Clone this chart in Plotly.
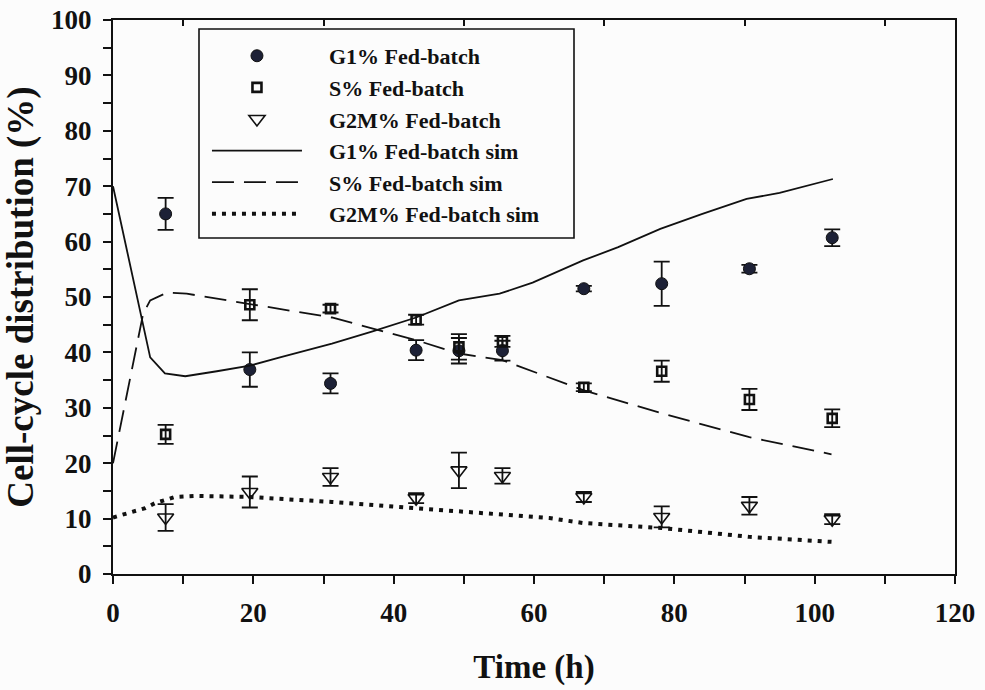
import plotly.graph_objects as go

# Measured cell-cycle phase fractions (fed-batch), mean +/- error
time_exp = [7.5, 19.5, 31.0, 43.2, 49.3, 55.5, 67.1, 78.2, 90.7, 102.5]
g1_exp = [65.0, 36.9, 34.4, 40.4, 40.3, 40.3, 51.5, 52.4, 55.1, 60.7]
g1_err = [2.9, 3.1, 1.8, 1.8, 2.3, 1.8, 0.5, 4.0, 0.7, 1.5]
s_exp = [25.2, 48.6, 47.9, 45.9, 41.0, 42.0, 33.7, 36.6, 31.5, 28.1]
s_err = [1.7, 2.8, 0.7, 0.9, 2.3, 1.0, 0.7, 1.9, 1.9, 1.6]
g2m_exp = [10.2, 14.8, 17.5, 13.7, 18.7, 17.7, 13.9, 10.3, 12.3, 9.9]
g2m_err = [2.4, 2.8, 1.6, 0.9, 3.2, 1.4, 0.9, 1.9, 1.6, 0.9]

# Model simulations
g1_sim_t = [0, 5.3, 7.4, 10.3, 14.8, 19.5, 23.8, 31.2, 37.0, 43.2, 49.3, 55.1,
            59.8, 67.0, 72.0, 78.0, 84.0, 90.3, 95.0, 102.6]
g1_sim = [70.0, 39.1, 36.2, 35.7, 36.6, 37.6, 39.1, 41.6, 43.8, 46.3, 49.4, 50.6,
          52.6, 56.6, 59.0, 62.3, 65.0, 67.7, 68.8, 71.3]

s_sim_t = [0, 4.3, 5.3, 7.7, 10.5, 19.5, 31.2, 43.2, 49.3, 55.5, 62.2, 67.0,
           78.2, 90.7, 102.4]
s_sim = [20.0, 47.0, 49.4, 50.8, 50.6, 48.7, 46.3, 42.2, 39.8, 38.6, 35.5, 33.2,
         29.0, 24.7, 21.6]

g2m_sim_t = [0, 4.6, 6.0, 7.4, 8.8, 12.0, 19.5, 31.2, 43.2, 49.3, 62.2, 67.0,
             78.2, 90.7, 102.4]
g2m_sim = [10.2, 11.9, 12.8, 13.3, 13.9, 14.1, 13.9, 13.0, 11.9, 11.2, 10.1, 9.2,
           8.3, 6.7, 5.8]

x_major = [0, 20, 40, 60, 80, 100, 120]
y_major = [0, 10, 20, 30, 40, 50, 60, 70, 80, 90, 100]
top_ticks = [10, 30, 50, 70, 90, 110]

FONT = "Liberation Serif"
INK = "#111111"
BG = "#fcfcfc"
PAD = "\u2003"  # gap between legend glyph and label

err_style = dict(type="data", visible=True, thickness=1.8, width=8, color=INK)

fig = go.Figure()

fig.add_trace(go.Scatter(
    x=time_exp, y=g1_exp, mode="markers", name=PAD + "G1% Fed-batch",
    marker=dict(symbol="circle", size=12, color="#1d2136",
                line=dict(color=INK, width=1)),
    error_y=dict(array=g1_err, **err_style),
))
fig.add_trace(go.Scatter(
    x=time_exp, y=s_exp, mode="markers", name=PAD + "S% Fed-batch",
    marker=dict(symbol="square-open", size=9, color=INK,
                line=dict(color=INK, width=2.6)),
    error_y=dict(array=s_err, **err_style),
))
fig.add_trace(go.Scatter(
    x=time_exp, y=g2m_exp, mode="markers", name=PAD + "G2M% Fed-batch",
    marker=dict(symbol="triangle-down-open", size=14, color=INK,
                line=dict(color=INK, width=1.6)),
    error_y=dict(array=g2m_err, **err_style),
))
fig.add_trace(go.Scatter(
    x=g1_sim_t, y=g1_sim, mode="lines", name=PAD + "G1% Fed-batch sim",
    line=dict(color=INK, width=1.8),
))
fig.add_trace(go.Scatter(
    x=s_sim_t, y=s_sim, mode="lines", name=PAD + "S% Fed-batch sim",
    line=dict(color=INK, width=1.8, dash="22px,10px"),
))
fig.add_trace(go.Scatter(
    x=g2m_sim_t, y=g2m_sim, mode="lines", name=PAD + "G2M% Fed-batch sim",
    line=dict(color=INK, width=4, dash="4px,6px"),
))

# Top frame with its own tick marks
fig.add_trace(go.Scatter(x=[None], y=[None], xaxis="x2", showlegend=False,
                         hoverinfo="skip"))

tick_font = dict(family=FONT, size=27, color=INK, weight="bold")

fig.update_layout(
    width=985, height=690,
    margin=dict(l=113, r=30, t=20, b=116),
    paper_bgcolor=BG, plot_bgcolor=BG,
    showlegend=True,
    legend=dict(
        x=0.1116, y=0.973, xanchor="left", yanchor="top",
        font=dict(family=FONT, size=22, color=INK, weight="bold"),
        bgcolor="rgba(0,0,0,0)", borderwidth=0,
        itemwidth=90, traceorder="normal",
    ),
    shapes=[dict(
        type="rect", xref="paper", yref="paper",
        x0=(199 - 113) / 842, x1=(574 - 113) / 842,
        y0=(574 - 238) / 554, y1=(574 - 29) / 554,
        line=dict(color=INK, width=1.6), fillcolor=BG, layer="above",
    )],
    xaxis=dict(
        range=[0, 120], tickvals=x_major, ticktext=[str(v) for v in x_major],
        ticks="outside", ticklen=8, tickwidth=1.5, tickcolor=INK,
        minor=dict(dtick=10, tick0=0, ticks="outside", ticklen=8,
                   tickwidth=1.5, tickcolor=INK),
        showline=True, linecolor=INK, linewidth=2, showgrid=False, zeroline=False,
        tickfont=tick_font, ticklabelstandoff=6, automargin=False,
        title=dict(text="Time (h)",
                   font=dict(family=FONT, size=33, color=INK, weight="bold"),
                   standoff=27),
    ),
    xaxis2=dict(
        overlaying="x", side="top", range=[0, 120], tickvals=top_ticks,
        ticks="inside", ticklen=6, tickwidth=1.5, tickcolor=INK,
        showticklabels=False, showline=True, linecolor=INK, linewidth=2,
        showgrid=False, zeroline=False, automargin=False,
    ),
    yaxis=dict(
        range=[0, 100], tickvals=y_major, ticktext=[str(v) for v in y_major],
        ticks="outside", ticklen=8, tickwidth=1.5, tickcolor=INK,
        minor=dict(dtick=5, tick0=0, ticks="outside", ticklen=8,
                   tickwidth=1.5, tickcolor=INK),
        showline=True, linecolor=INK, linewidth=2, mirror=True,
        showgrid=False, zeroline=False, automargin=False,
        tickfont=tick_font, ticklabelstandoff=6,
        title=dict(text="Cell-cycle distribution (%)",
                   font=dict(family=FONT, size=37, color=INK, weight="bold"),
                   standoff=6),
    ),
)

fig.write_html("out.html")
